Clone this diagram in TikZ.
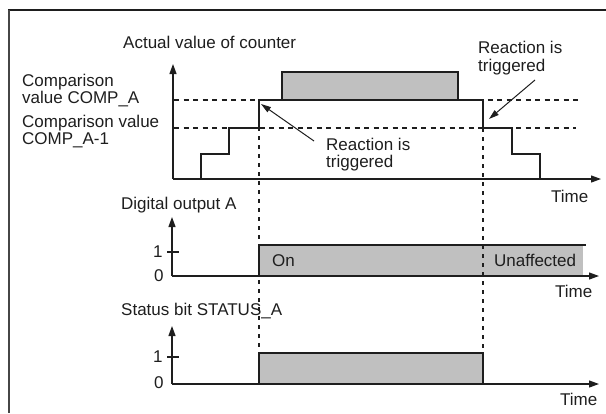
\documentclass[tikz,border=0pt]{standalone}
\usepackage{fontspec}
\setmainfont{Liberation Sans}
\usetikzlibrary{arrows.meta}
\definecolor{ink}{HTML}{1E1E1E}
\definecolor{fillgray}{HTML}{C0C0C0}
\tikzset{
  lbl/.style={anchor=base west, inner sep=0pt, font=\fontsize{17}{19}\selectfont, text=ink},
  axis/.style={draw=ink, line width=1.2pt, -{Triangle[length=10pt,width=7pt]}},
  sig/.style={draw=ink, line width=1.2pt},
  hdash/.style={draw=ink, line width=1.2pt, dash pattern=on 5pt off 4.5pt},
  vdash/.style={draw=ink, line width=1.2pt, dash pattern=on 4pt off 5pt},
  pointer/.style={draw=ink, line width=1pt, -{Triangle[length=10pt,width=6pt]}},
  tick/.style={draw=ink, line width=1.2pt}
}
\begin{document}
\begin{tikzpicture}[x=1pt,y=-1pt]
\useasboundingbox (0,0) rectangle (606,413);
% frame (cropped: only top and left edges)
\draw[ink, line width=1.2pt] (8,10) -- (606,10);
\draw[draw={rgb,255:red,70;green,70;blue,70}, line width=2pt] (8.5,10) -- (8.5,413);

% ---------- counter ----------
\node[lbl] (tcounter) at (123,48) {Actual value of counter};
\node[lbl] (tcmpa1) at (22,86) {Comparison};
\node[lbl] (tcmpa2) at (22,103) {value COMP\_A};
\node[lbl] (tcmpb1) at (22,127) {Comparison value};
\node[lbl] (tcmpb2) at (22,144) {COMP\_A-1};

\fill[fillgray] (282,72) rectangle (458,100);
\draw[hdash] (174,100) -- (580,100);
\draw[hdash] (174,128) -- (576,128);
\draw[sig] (201,179) -- (201,154) -- (229,154) -- (229,128) -- (259,128) -- (259,100)
  -- (282,100) -- (282,72) -- (458,72) -- (458,100) -- (483,100) -- (483,128)
  -- (512,128) -- (512,154) -- (540,154) -- (540,179);
\draw[sig] (282,100) -- (458,100);
\draw[axis] (173,179) -- (173,64);
\draw[axis] (173,179) -- (601,179);
\node[lbl] (ttime1) at (551,202) {Time};

% reaction labels
\node[lbl] (tra1) at (326,150) {Reaction is};
\node[lbl] (tra2) at (326,167) {triggered};
\node[lbl] (trb1) at (478,53) {Reaction is};
\node[lbl] (trb2) at (478,71) {triggered};
\coordinate (pa0) at (314,141);
\coordinate (pa1) at (261,104);
\coordinate (pb0) at (535,80);
\coordinate (pb1) at (489,119);
\draw[pointer] (pa0) -- (pa1);
\draw[pointer] (pb0) -- (pb1);

% vertical dashed guides
\draw[vdash] (259,100) -- (259,352);
\draw[vdash] (483,128) -- (483,352);

% ---------- digital output ----------
\node[lbl] (tdig) at (121,209) {Digital output A};
\fill[fillgray] (259,245) rectangle (583,276);
\draw[vdash] (483,245) -- (483,276);
\draw[sig] (259,276) -- (259,245) -- (586,245);
\draw[axis] (172,276) -- (172,217);
\draw[axis] (172,276) -- (599,276);
\draw[tick] (167,252) -- (179,252);
\node[lbl] (tdig1) at (153,257) {1};
\node[lbl] (tdig0) at (154,281) {0};
\node[lbl] (ton) at (272,266) {On};
\node[lbl] (tunaff) at (494,266) {Unaffected};
\node[lbl] (ttime2) at (555,297) {Time};

% ---------- status bit ----------
\node[lbl] (tstat) at (121,315) {Status bit STATUS\_A};
\fill[fillgray] (259,353) rectangle (483,384);
\draw[sig] (259,384) -- (259,353) -- (483,353) -- (483,384);
\draw[axis] (172,384) -- (172,326);
\draw[axis] (172,384) -- (599,384);
\draw[tick] (167,357) -- (179,357);
\node[lbl] (tst1) at (153,362) {1};
\node[lbl] (tst0) at (154,388) {0};
\node[lbl] (ttime3) at (560,405) {Time};
\end{tikzpicture}
\end{document}
